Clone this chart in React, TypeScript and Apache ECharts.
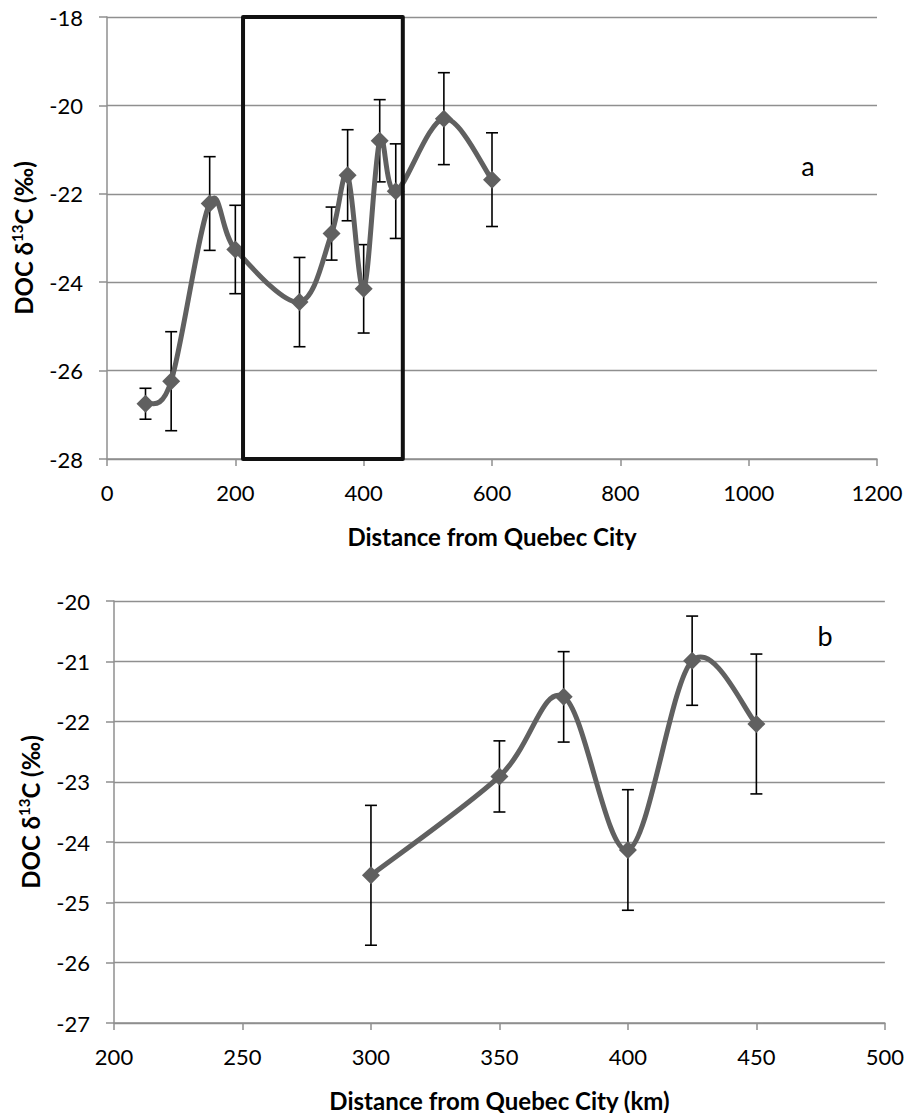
import React, { useEffect, useRef } from "react";
import * as echarts from "echarts";

// Panel a: full transect
const distA = [60, 100, 160, 200, 300, 350, 375, 400, 425, 450, 525, 600];
const docA = [-26.75, -26.24, -22.22, -23.26, -24.45, -22.9, -21.58, -24.15, -20.8, -21.94, -20.3, -21.68];
const errA = [0.35, 1.12, 1.06, 1.0, 1.01, 0.6, 1.03, 1.0, 0.93, 1.07, 1.04, 1.06];
// Highlighted window on panel a (distance range, d13C range)
const boxA = [212, 461, -18, -28];

// Panel b: close-up of the highlighted window
const distB = [300, 350, 375, 400, 425, 450];
const docB = [-24.55, -22.91, -21.59, -24.13, -20.99, -22.04];
const errB = [1.16, 0.59, 0.75, 1.0, 0.74, 1.16];

// Axis ranges and tick steps
const xAxisA = { min: 0, max: 1200, step: 200 };
const yAxisA = { min: -28, max: -18, step: 2 };
const xAxisB = { min: 200, max: 500, step: 50 };
const yAxisB = { min: -27, max: -20, step: 1 };

const xTitleA = "Distance from Quebec City";
const xTitleB = "Distance from Quebec City (km)";
const yTitle = "{n|DOC δ}{s|13}{n|C (‰)}";

const FONT = "Lato, 'Noto Sans', sans-serif";
const LINE = "#606060";
const GRID = "#8f8f8f";

// Excel-like smoothed line: Catmull-Rom segments drawn as cubic Béziers
function curveRenderer(xs: number[], ys: number[]) {
  return (params: any, api: any) => {
    const i = params.dataIndex;
    const n = xs.length;
    if (i >= n - 1) return { type: "group", children: [] };
    const c = (k: number) => {
      const j = Math.max(0, Math.min(n - 1, k));
      return api.coord([xs[j], ys[j]]);
    };
    const p0 = c(i - 1);
    const p1 = c(i);
    const p2 = c(i + 1);
    const p3 = c(i + 2);
    const t = 1 / 6;
    return {
      type: "bezierCurve",
      shape: {
        x1: p1[0],
        y1: p1[1],
        x2: p2[0],
        y2: p2[1],
        cpx1: p1[0] + (p2[0] - p0[0]) * t,
        cpy1: p1[1] + (p2[1] - p0[1]) * t,
        cpx2: p2[0] - (p3[0] - p1[0]) * t,
        cpy2: p2[1] - (p3[1] - p1[1]) * t,
      },
      style: { stroke: LINE, lineWidth: 5, fill: "none", lineCap: "round" },
    };
  };
}

function errorBarRenderer(params: any, api: any) {
  const x = api.value(0);
  const y = api.value(1);
  const e = api.value(2);
  const top = api.coord([x, y + e]);
  const bot = api.coord([x, y - e]);
  const hw = 6;
  const style = { stroke: "#000", lineWidth: 1.6 };
  return {
    type: "group",
    children: [
      { type: "line", shape: { x1: top[0], y1: top[1], x2: bot[0], y2: bot[1] }, style },
      { type: "line", shape: { x1: top[0] - hw, y1: top[1], x2: top[0] + hw, y2: top[1] }, style },
      { type: "line", shape: { x1: bot[0] - hw, y1: bot[1], x2: bot[0] + hw, y2: bot[1] }, style },
    ],
  };
}

function boxRenderer(params: any, api: any) {
  const a = api.coord([api.value(0), api.value(2)]);
  const b = api.coord([api.value(1), api.value(3)]);
  return {
    type: "rect",
    shape: { x: a[0], y: a[1], width: b[0] - a[0], height: b[1] - a[1] },
    style: { fill: "none", stroke: "#111", lineWidth: 4, lineJoin: "round" },
  };
}

function xAxisOf(gridIndex: number, r: any, name: string) {
  return {
    type: "value",
    gridIndex,
    min: r.min,
    max: r.max,
    interval: r.step,
    name,
    nameLocation: "middle",
    nameGap: 65,
    nameTextStyle: { fontFamily: FONT, fontSize: 24, fontWeight: "bold", color: "#000" },
    axisLine: { show: true, lineStyle: { color: GRID, width: 1.5 } },
    axisTick: { show: true, length: 7, lineStyle: { color: GRID, width: 1.5 } },
    axisLabel: { fontFamily: FONT, fontSize: 22, color: "#000", margin: 22, formatter: (v: number) => String(v) },
    splitLine: { show: false },
  };
}

function yAxisOf(gridIndex: number, r: any) {
  return {
    type: "value",
    gridIndex,
    min: r.min,
    max: r.max,
    interval: r.step,
    name: yTitle,
    nameLocation: "middle",
    nameGap: 70,
    nameTextStyle: {
      rich: {
        n: { fontFamily: FONT, fontSize: 24, fontWeight: "bold", color: "#000", lineHeight: 28 },
        s: { fontFamily: FONT, fontSize: 15, fontWeight: "bold", color: "#000", verticalAlign: "top", lineHeight: 28 },
      },
    },
    axisLine: { show: true, lineStyle: { color: GRID, width: 1.5 } },
    axisTick: { show: true, length: 8, lineStyle: { color: GRID, width: 1.5 } },
    axisLabel: { fontFamily: FONT, fontSize: 22, color: "#000", margin: 24, formatter: (v: number) => String(v) },
    splitLine: { show: true, lineStyle: { color: GRID, width: 1.4 } },
  };
}

function panelSeries(idx: number, xs: number[], ys: number[], es: number[]) {
  const pts = xs.map((x, i) => [x, ys[i]]);
  return [
    {
      type: "custom",
      xAxisIndex: idx,
      yAxisIndex: idx,
      z: 1,
      renderItem: errorBarRenderer,
      encode: { x: 0, y: 1 },
      data: xs.map((x, i) => [x, ys[i], es[i]]),
      clip: false,
    },
    {
      type: "custom",
      xAxisIndex: idx,
      yAxisIndex: idx,
      z: 2,
      renderItem: curveRenderer(xs, ys),
      encode: { x: 0, y: 1 },
      data: pts,
      clip: false,
    },
    {
      type: "scatter",
      xAxisIndex: idx,
      yAxisIndex: idx,
      z: 3,
      symbol: "diamond",
      symbolSize: 18,
      itemStyle: { color: LINE, opacity: 1 },
      data: pts,
    },
  ];
}

export default function App() {
  const ref = useRef<HTMLDivElement>(null);

  useEffect(() => {
    if (!ref.current) return;
    const chart = echarts.init(ref.current, null, { renderer: "svg" });
    chart.setOption({
      animation: false,
      backgroundColor: "#fff",
      grid: [
        { left: 107, top: 17, width: 770, height: 442 },
        { left: 114, top: 601, width: 777, height: 423 },
      ],
      xAxis: [xAxisOf(0, xAxisA, xTitleA), xAxisOf(1, xAxisB, xTitleB)],
      yAxis: [yAxisOf(0, yAxisA), yAxisOf(1, yAxisB)],
      series: [
        ...panelSeries(0, distA, docA, errA),
        {
          type: "custom",
          xAxisIndex: 0,
          yAxisIndex: 0,
          z: 5,
          renderItem: boxRenderer,
          encode: { x: [0, 1], y: [2, 3] },
          data: [boxA],
          clip: false,
        },
        ...panelSeries(1, distB, docB, errB),
      ],
      graphic: [
        { type: "text", x: 808, y: 165, style: { text: "a", fontFamily: FONT, fontSize: 27, fill: "#000", align: "center", verticalAlign: "middle" } },
        { type: "text", x: 825, y: 635, style: { text: "b", fontFamily: FONT, fontSize: 27, fill: "#000", align: "center", verticalAlign: "middle" } },
      ],
    });
    return () => chart.dispose();
  }, []);

  return (
    <div
      ref={ref}
      style={{ position: "absolute", left: 0, top: 0, width: 907, height: 1113 }}
    />
  );
}
